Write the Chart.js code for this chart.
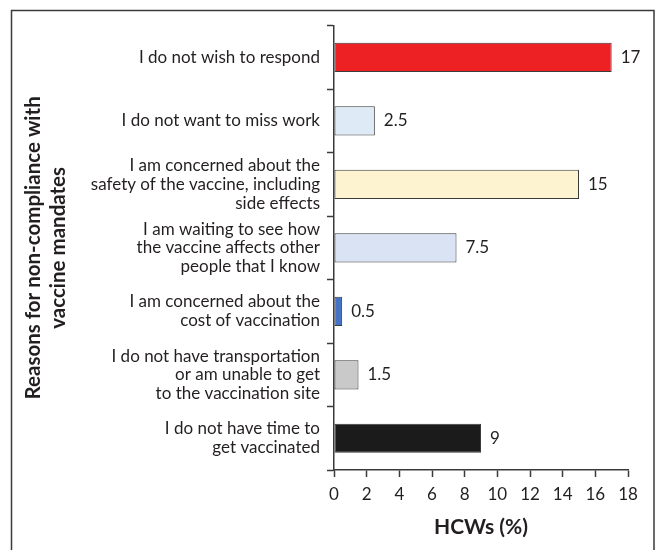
<!DOCTYPE html>
<html>
<head>
<meta charset="utf-8">
<title>Reasons for non-compliance with vaccine mandates</title>
<script src="https://cdn.jsdelivr.net/npm/chart.js@4.4.1/dist/chart.umd.min.js"></script>
<style>
  html, body { margin: 0; padding: 0; background: #fff; }
  #wrap { width: 660px; height: 550px; }
</style>
</head>
<body>
<div id="wrap"><canvas id="reasonsChart" width="660" height="550"></canvas></div>
<script>
const reasons = [
    "I do not wish to respond",
    "I do not want to miss work",
    ["I am concerned about the", "safety of the vaccine, including", "side effects"],
    ["I am waiting to see how", "the vaccine affects other", "people that I know"],
    ["I am concerned about the", "cost of vaccination"],
    ["I do not have transportation", "or am unable to get", "to the vaccination site"],
    ["I do not have time to", "get vaccinated"]
];
const hcwPercent = [17, 2.5, 15, 7.5, 0.5, 1.5, 9];
const barColors = ["#ed2024", "#deebf7", "#fdf3d0", "#dae3f3", "#4472c4", "#c9c9c9", "#1b1b1b"];
const xTicks = [0, 2, 4, 6, 8, 10, 12, 14, 16, 18];

const textColor = "#231f20";
const fontFamily = "Lato, 'Open Sans', sans-serif";

// outer box round the figure (open at the bottom)
const framePlugin = {
    id: "frame",
    afterDraw(chart) {
        const ctx = chart.ctx;
        ctx.save();
        ctx.lineWidth = 1.5;
        ctx.strokeStyle = "#3a3a3a";
        ctx.beginPath();
        ctx.moveTo(11.5, 550);
        ctx.lineTo(11.5, 10.5);
        ctx.lineTo(654, 10.5);
        ctx.lineTo(654, 550);
        ctx.stroke();
        ctx.restore();
    }
};

// value printed just past the end of each bar
const valueLabels = {
    id: "valueLabels",
    afterDatasetsDraw(chart) {
        const ctx = chart.ctx;
        const meta = chart.getDatasetMeta(0);
        ctx.save();
        ctx.font = "17px " + fontFamily;
        ctx.fillStyle = textColor;
        ctx.textAlign = "left";
        ctx.textBaseline = "middle";
        meta.data.forEach((bar, i) => {
            ctx.fillText(String(hcwPercent[i]), bar.x + 9, bar.y);
        });
        ctx.restore();
    }
};

const ctx = document.getElementById("reasonsChart").getContext("2d");

new Chart(ctx, {
    type: "bar",
    data: {
        labels: reasons,
        datasets: [{
            data: hcwPercent,
            backgroundColor: barColors,
            borderColor: "#3a3a3a",
            borderWidth: 1,
            borderSkipped: false,
            barPercentage: 0.46,
            categoryPercentage: 1
        }]
    },
    options: {
        indexAxis: "y",
        responsive: false,
        animation: false,
        layout: { padding: { left: 14, right: 32, top: 25, bottom: 0 } },
        plugins: {
            legend: { display: false },
            tooltip: { enabled: false }
        },
        scales: {
            x: {
                min: 0,
                max: 18,
                afterBuildTicks: scale => {
                    scale.ticks = xTicks.map(v => ({ value: v }));
                },
                afterFit: scale => { scale.height = 80; },
                grid: {
                    drawOnChartArea: false,
                    drawTicks: true,
                    tickLength: 7,
                    tickWidth: 1.5,
                    tickColor: "#3a3a3a"
                },
                border: { color: "#3a3a3a", width: 1.5 },
                ticks: {
                    color: textColor,
                    padding: 7,
                    font: { family: fontFamily, size: 17 }
                },
                title: {
                    display: true,
                    text: "HCWs (%)",
                    color: textColor,
                    padding: { top: 0, bottom: 10 },
                    font: { family: fontFamily, size: 21, weight: "bold" }
                }
            },
            y: {
                afterFit: scale => { scale.width = 320; },
                grid: {
                    offset: true,
                    drawOnChartArea: false,
                    drawTicks: true,
                    tickLength: 7,
                    tickWidth: 1.5,
                    tickColor: "#3a3a3a"
                },
                border: { color: "#3a3a3a", width: 1.5 },
                ticks: {
                    color: textColor,
                    padding: 7,
                    font: { family: fontFamily, size: 17, lineHeight: 1.1 }
                },
                title: {
                    display: true,
                    text: ["Reasons for non-compliance with", "vaccine mandates"],
                    color: textColor,
                    padding: { top: 7, bottom: 0 },
                    font: { family: fontFamily, size: 20.5, weight: "bold", lineHeight: 1.2 }
                }
            }
        }
    },
    plugins: [framePlugin, valueLabels]
});
</script>
</body>
</html>
